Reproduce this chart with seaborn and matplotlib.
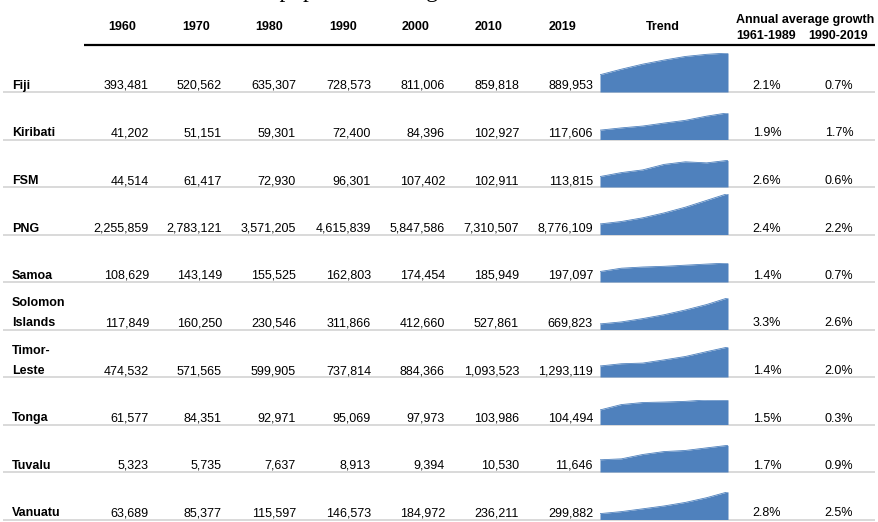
import numpy as np
import pandas as pd
import seaborn as sns
import matplotlib.pyplot as plt

# data
countries = ["Fiji", "Kiribati", "FSM", "PNG", "Samoa", "Solomon\nIslands",
             "Timor-\nLeste", "Tonga", "Tuvalu", "Vanuatu"]
years = ["1960", "1970", "1980", "1990", "2000", "2010", "2019"]
p1960 = [393481, 41202, 44514, 2255859, 108629, 117849, 474532, 61577, 5323, 63689]
p1970 = [520562, 51151, 61417, 2783121, 143149, 160250, 571565, 84351, 5735, 85377]
p1980 = [635307, 59301, 72930, 3571205, 155525, 230546, 599905, 92971, 7637, 115597]
p1990 = [728573, 72400, 96301, 4615839, 162803, 311866, 737814, 95069, 8913, 146573]
p2000 = [811006, 84396, 107402, 5847586, 174454, 412660, 884366, 97973, 9394, 184972]
p2010 = [859818, 102927, 102911, 7310507, 185949, 527861, 1093523, 103986, 10530, 236211]
p2019 = [889953, 117606, 113815, 8776109, 197097, 669823, 1293119, 104494, 11646, 299882]
growth_6189 = [2.1, 1.9, 2.6, 2.4, 1.4, 3.3, 1.4, 1.5, 1.7, 2.8]
growth_9019 = [0.7, 1.7, 0.6, 2.2, 0.7, 2.6, 2.0, 0.3, 0.9, 2.5]

df = pd.DataFrame({"1960": p1960, "1970": p1970, "1980": p1980, "1990": p1990,
                   "2000": p2000, "2010": p2010, "2019": p2019}, index=countries)

# layout (pixels)
W, H = 879, 522
col_right = [149, 222, 296, 371, 445, 519, 593]
head_x = [122, 196, 269, 343, 416, 489, 563]
row_line = [92 + 47.5 * i for i in range(len(countries))]
spark_h = [39, 26.7, 26.7, 41, 19, 31.7, 30, 24.7, 26.7, 27.7]
blue = "#4F81BD"

sns.set_theme(style="white")
plt.rcParams["font.family"] = ["Liberation Sans", "DejaVu Sans"]
plt.rcParams["text.color"] = "black"

fig = plt.figure(figsize=(W / 100, H / 100), dpi=100)
ax = fig.add_axes([0, 0, 1, 1])
ax.set_xlim(0, W)
ax.set_ylim(H, 0)
ax.axis("off")

# title (only the descenders show in the reference)
ax.text(63, -3.5, "Table 2: Pacific island population and growth rates", fontsize=17,
        family="Liberation Serif", va="baseline", ha="left")

# header
for x, y in zip(head_x, years):
    ax.text(x, 27, y, ha="center", va="center", fontsize=9, fontweight="bold")
ax.text(663, 27, "Trend", ha="center", va="center", fontsize=9, fontweight="bold")
ax.text(805, 19.5, "Annual average growth", ha="center", va="center", fontsize=9, fontweight="bold")
ax.text(766.5, 36, "1961-1989", ha="center", va="center", fontsize=9, fontweight="bold")
ax.text(838, 36, "1990-2019", ha="center", va="center", fontsize=9, fontweight="bold")
ax.plot([84, 875], [44.5, 44.5], color="black", lw=1.6, solid_capstyle="butt")

idx = np.arange(len(years))
for i, c in enumerate(countries):
    yl = row_line[i]
    ax.plot([3, 875], [yl, yl], color="#d9d9d9", lw=1.4, solid_capstyle="butt", zorder=0)
    base = yl - 3
    parts = c.split("\n")
    for k, part in enumerate(reversed(parts)):
        ax.text(12, base - 20 * k, part, ha="left", va="baseline", fontsize=9, fontweight="bold")
    for j, y in enumerate(years):
        ax.text(col_right[j], base, f"{df.loc[c, y]:,}", ha="right", va="baseline", fontsize=9)
    ax.text(767, base, f"{growth_6189[i]:.1f}%", ha="center", va="baseline", fontsize=9)
    ax.text(839, base, f"{growth_9019[i]:.1f}%", ha="center", va="baseline", fontsize=9)

    # sparkline
    sax = fig.add_axes([600 / W, (H - yl) / H, 128 / W, spark_h[i] / H])
    vals = df.loc[c].values
    sax.fill_between(idx, vals, color=blue, lw=0)
    sns.lineplot(x=idx, y=vals, ax=sax, color=blue, lw=0.6)
    sax.set_xlim(0, len(years) - 1)
    sax.set_ylim(0, vals.max())
    sax.axis("off")

fig.savefig("out.png", dpi=100)
